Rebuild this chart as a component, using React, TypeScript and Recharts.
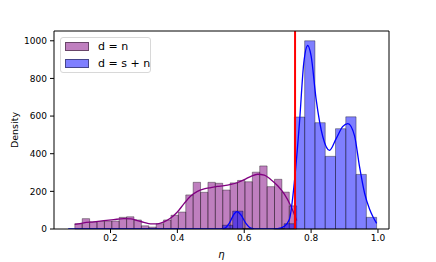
import { ComposedChart, Line, XAxis, YAxis, ReferenceArea, ReferenceLine } from "recharts";

// histogram d = n (purple): uniform bins
const purpleStart = 0.0933;
const purpleWidth = 0.02212;
const purpleCounts = [
  28, 55, 38, 40, 42, 42, 62, 65, 48, 17,
  10, 28, 48, 73, 90, 181, 248, 195, 248, 243,
  207, 245, 258, 251, 302, 335, 225, 264, 196, 123,
];

// histogram d = s + n (blue)
const blueStart = 0.0735;
const blueWidth = 0.03075;
const blueCounts = [
  0, 0, 0, 0, 0, 0, 0, 0, 0, 0,
  0, 0, 0, 0, 0, 20, 95, 3, 0, 0,
  2, 28, 595, 1000, 565, 386, 533, 596, 290, 62,
];

const purpleKdeX = [0.093, 0.12, 0.15, 0.18, 0.21, 0.24, 0.26, 0.28, 0.3, 0.32, 0.34, 0.36, 0.38, 0.4, 0.42, 0.44, 0.46, 0.48, 0.5, 0.52, 0.54, 0.56, 0.58, 0.6, 0.62, 0.64, 0.66, 0.68, 0.7, 0.72, 0.74, 0.757];
const purpleKdeY = [24, 33, 38, 44, 50, 55, 54, 45, 35, 27, 27, 38, 58, 90, 135, 175, 200, 213, 220, 226, 230, 237, 247, 262, 280, 291, 286, 262, 230, 185, 120, 45];

const blueKdeX = [0.0735, 0.52, 0.54, 0.555, 0.57, 0.578, 0.59, 0.605, 0.62, 0.64, 0.68, 0.7, 0.72, 0.735, 0.75, 0.765, 0.778, 0.79, 0.8, 0.815, 0.835, 0.855, 0.875, 0.895, 0.91, 0.93, 0.945, 0.96, 0.975, 0.985, 0.996];
const blueKdeY = [0, 0, 3, 30, 80, 92, 75, 30, 5, 0, 0, 2, 15, 50, 250, 560, 880, 975, 920, 690, 490, 418, 480, 545, 560, 495, 330, 190, 105, 65, 30];

const threshold = 0.752;
const xDomain: [number, number] = [0.031, 1.033];
const yDomain: [number, number] = [0, 1052];
const xTicks = [0.2, 0.4, 0.6, 0.8, 1.0];
const yTicks = [0, 200, 400, 600, 800, 1000];

const purpleKde = purpleKdeX.map((x, i) => ({ x, y: purpleKdeY[i] }));
const blueKde = blueKdeX.map((x, i) => ({ x, y: blueKdeY[i] }));

const font = "DejaVu Sans, sans-serif";
const tick = { fill: "#000", fontSize: 9, fontFamily: font };

function bins(start: number, width: number, counts: number[], color: string, key: string) {
  return counts.map((c, i) =>
    c > 0 ? (
      <ReferenceArea
        key={key + i}
        x1={start + width * i}
        x2={start + width * (i + 1)}
        y1={0}
        y2={c}
        fill={color}
        fillOpacity={0.5}
        stroke="#000"
        strokeOpacity={0.45}
        strokeWidth={0.8}
        ifOverflow="visible"
      />
    ) : null
  );
}

export default function App() {
  return (
    <div style={{ position: "absolute", left: 0, top: 0, width: 436, height: 262, background: "#fff" }}>
      <ComposedChart width={436} height={262} margin={{ top: 31, right: 47, bottom: 0, left: 0 }}>
        <XAxis
          dataKey="x"
          type="number"
          domain={xDomain}
          ticks={xTicks}
          tickFormatter={(v: number) => v.toFixed(1)}
          allowDataOverflow
          height={33}
          tickSize={4}
          tickMargin={2}
          tick={tick}
          stroke="#000"
          label={{ value: "η", position: "insideBottom", offset: 4, style: { fontStyle: "italic", fontSize: 10, fill: "#000", fontFamily: font } }}
        />
        <YAxis
          type="number"
          domain={yDomain}
          ticks={yTicks}
          allowDataOverflow
          width={54}
          tickSize={4}
          tickMargin={3}
          tick={tick}
          stroke="#000"
          label={{ value: "Density", angle: -90, position: "insideLeft", offset: 15, style: { textAnchor: "middle", fontSize: 9.5, fill: "#000", fontFamily: font } }}
        />
        {bins(purpleStart, purpleWidth, purpleCounts, "#800080", "p")}
        {bins(blueStart, blueWidth, blueCounts, "#0000ff", "b")}
        <Line data={purpleKde} dataKey="y" type="monotone" stroke="#800080" strokeWidth={1.3} dot={false} isAnimationActive={false} />
        <Line data={blueKde} dataKey="y" type="monotone" stroke="#0000ff" strokeWidth={1.3} dot={false} isAnimationActive={false} />
        <ReferenceLine x={threshold} stroke="#ff0000" strokeWidth={2} ifOverflow="visible" />
        <ReferenceLine y={yDomain[1]} stroke="#000" strokeWidth={1} ifOverflow="visible" />
        <ReferenceLine x={xDomain[1]} stroke="#000" strokeWidth={1} ifOverflow="visible" />
      </ComposedChart>
      <div
        style={{
          position: "absolute",
          left: 60,
          top: 37,
          width: 89,
          height: 34,
          border: "1px solid #d8d8d8",
          borderRadius: 3,
          background: "rgba(255,255,255,0.8)",
          fontFamily: font,
          fontSize: 11,
          color: "#000",
        }}
      >
        {[
          { label: "d = n", color: "rgba(128,0,128,0.5)" },
          { label: "d = s + n", color: "rgba(0,0,255,0.5)" },
        ].map((it, i) => (
          <div key={it.label} style={{ position: "absolute", left: 4, top: 4 + i * 16.5, height: 9, display: "flex", alignItems: "center", whiteSpace: "nowrap" }}>
            <span style={{ display: "inline-block", width: 22, height: 7, background: it.color, border: "0.8px solid rgba(0,0,0,0.45)" }} />
            <span style={{ marginLeft: 9, lineHeight: "9px" }}>{it.label}</span>
          </div>
        ))}
      </div>
    </div>
  );
}
